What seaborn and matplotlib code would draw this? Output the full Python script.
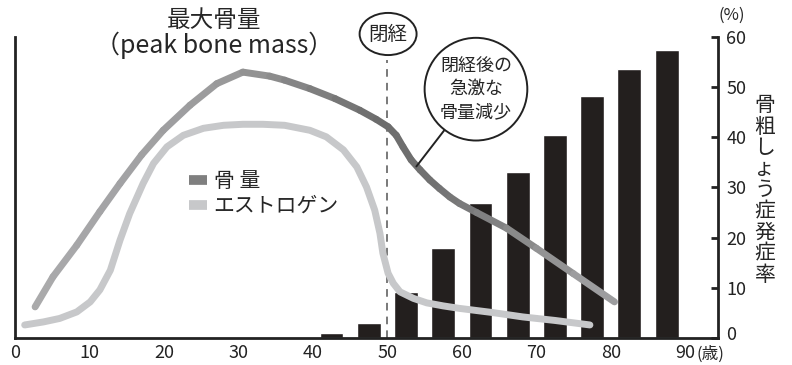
import matplotlib
matplotlib.use("Agg")
import matplotlib.pyplot as plt
from matplotlib.lines import Line2D
from matplotlib.patches import Ellipse
from matplotlib.collections import LineCollection
from matplotlib.colors import LinearSegmentedColormap, Normalize
from matplotlib.transforms import ScaledTranslation
import numpy as np
import pandas as pd
import seaborn as sns

# Bone mass curve (relative units)
bone_age = [2.7, 5.1, 8.3, 11.4, 14.1, 17.0, 19.9, 23.5, 27.1, 30.6, 34.2, 36.2, 39.6,
            43.0, 46.3, 48.5, 50.1, 51.2, 52.1, 53.2, 54.4, 55.7, 57.0, 58.4, 59.7,
            62.0, 66.0, 70.0, 75.0, 80.5]
bone_mass = [6.2, 12.2, 18.5, 25.2, 30.8, 36.5, 41.4, 46.4, 50.7, 53.0, 52.2, 51.4, 49.7,
             47.7, 45.4, 43.6, 42.1, 40.4, 38.1, 35.5, 33.5, 31.5, 29.8, 28.1, 26.8,
             25.0, 21.9, 17.9, 12.8, 7.2]

# Estrogen curve (relative units)
estr_age = [1.3, 3.8, 6.0, 8.3, 10.1, 11.4, 12.8, 14.1, 15.4, 17.2, 18.6, 20.4, 22.6,
            25.3, 28.0, 30.6, 33.3, 36.2, 39.6, 41.8, 44.1, 45.9, 47.2, 48.3, 49.0,
            49.4, 50.1, 50.8, 51.7, 53.5, 55.3, 57.5, 59.7, 64.0, 68.2, 72.5, 77.2]
estrogen = [2.6, 3.2, 3.9, 5.2, 7.2, 9.6, 13.5, 19.5, 24.8, 30.8, 34.8, 38.1, 40.4,
            41.8, 42.4, 42.6, 42.6, 42.4, 41.4, 40.1, 37.5, 34.1, 30.1, 25.5, 20.9,
            16.9, 12.9, 10.9, 9.2, 7.9, 7.0, 6.4, 5.9, 5.1, 4.2, 3.5, 2.6]

# Osteoporosis incidence (%) by 5-year age group
bar_age = [42.5, 47.5, 52.5, 57.5, 62.5, 67.5, 72.5, 77.5, 82.5, 87.5]
incidence = [1.0, 3.0, 9.2, 18.0, 27.0, 33.0, 40.4, 48.2, 53.6, 57.4]

x_ticks = [0, 10, 20, 30, 40, 50, 60, 70, 80, 90]
y_ticks = [0, 10, 20, 30, 40, 50, 60]

sns.set_style("white")
plt.rcParams['font.family'] = ['Noto Sans CJK JP', 'DejaVu Sans']

fig = plt.figure(figsize=(7.92, 3.65), dpi=100)
ax = fig.add_axes([15 / 792, 27 / 365, 703 / 792, 301 / 365])

ESTR = "#c7c8ca"
DARK = "#231f1e"
INK = "#222222"

ax.bar(bar_age, incidence, width=3.2, color=DARK, zorder=1)

estr_df = pd.DataFrame({"age": estr_age, "val": estrogen})
sns.lineplot(data=estr_df, x="age", y="val", ax=ax, color=ESTR, lw=5, sort=False,
             solid_capstyle="round", solid_joinstyle="round", zorder=3)

# bone mass drawn with a grey gradient (lighter at the ends, darkest after menopause)
bone_cmap = LinearSegmentedColormap.from_list(
    "bone", [(0.0, "#acacae"), (0.35, "#9a9a9b"), (0.6, "#6c6c6c"),
             (0.68, "#707070"), (1.0, "#a6a6a8")])
pts = np.column_stack([bone_age, bone_mass])
segs = np.stack([pts[:-1], pts[1:]], axis=1)
mids = (np.array(bone_age[:-1]) + np.array(bone_age[1:])) / 2
lc = LineCollection(segs, colors=bone_cmap(Normalize(0, 82)(mids)), linewidths=5,
                    capstyle="round", joinstyle="round", zorder=4)
ax.add_collection(lc)

# menopause line
ax.axvline(50, ymin=0, ymax=55.5 / 60, color="#555555", lw=1.1, ls=(0, (5, 4)), zorder=2)

ax.set_xlim(0, 94.4)
ax.set_ylim(0, 60)
ax.set_xticks(x_ticks)
ax.set_yticks(y_ticks)
ax.yaxis.tick_right()
ax.tick_params(axis="x", direction="in", length=6, width=2, labelsize=13, pad=4, colors=INK)
ax.tick_params(axis="y", direction="in", length=5, width=2, labelsize=13, pad=6, colors=INK)
ax.set_xlabel("")
ax.set_ylabel("")
ax.spines["top"].set_visible(False)
for s in ["left", "bottom", "right"]:
    ax.spines[s].set_linewidth(2)
    ax.spines[s].set_color(INK)

# lift the right-hand "0" a little, as in the original
zero_lbl = ax.get_yticklabels()[0]
zero_lbl.set_transform(zero_lbl.get_transform() + ScaledTranslation(0, 5 / 100, fig.dpi_scale_trans))

# texts
ax.text(26.8, 63.3, "最大骨量", ha="center", va="center", fontsize=17, clip_on=False)
ax.text(26.8, 58.3, "（peak bone mass）", ha="center", va="center", fontsize=18, clip_on=False)
ax.add_patch(Ellipse((50.1, 60.6), 7.65, 8.4, fc="white", ec=INK, lw=1.4,
                     clip_on=False, zorder=6))
ax.text(50.1, 60.6, "閉経", ha="center", va="center", fontsize=14, clip_on=False, zorder=7)
ax.annotate("閉経後の\n急激な\n骨量減少", xy=(53.9, 34.2), xytext=(61.9, 49.6),
            ha="center", va="center", fontsize=13, linespacing=1.35,
            bbox=dict(boxstyle="circle,pad=0.85", fc="white", ec=INK, lw=1.4),
            arrowprops=dict(arrowstyle="-", color=INK, lw=1.4, shrinkA=0, shrinkB=0),
            zorder=6)
ax.text(96.2, 64.3, "(%)", ha="center", va="center", fontsize=12, clip_on=False)
ax.text(100.7, 29.5, "\n".join("骨粗しょう症発症率"), ha="center", va="center",
        fontsize=15, linespacing=0.95, clip_on=False)
ax.text(91.5, -3.3, "(歳)", ha="left", va="center", fontsize=12, clip_on=False)

handles = [Line2D([0], [0], color="#7f7f7f", lw=7, solid_capstyle="butt"),
           Line2D([0], [0], color=ESTR, lw=7, solid_capstyle="butt")]
ax.legend(handles, ["骨 量", "エストロゲン"], loc="center left", bbox_to_anchor=(0.235, 0.48),
          frameon=False, fontsize=15, handlelength=0.9, handletextpad=0.3,
          labelspacing=0.15, borderaxespad=0)

fig.savefig("out.png", dpi=100)
